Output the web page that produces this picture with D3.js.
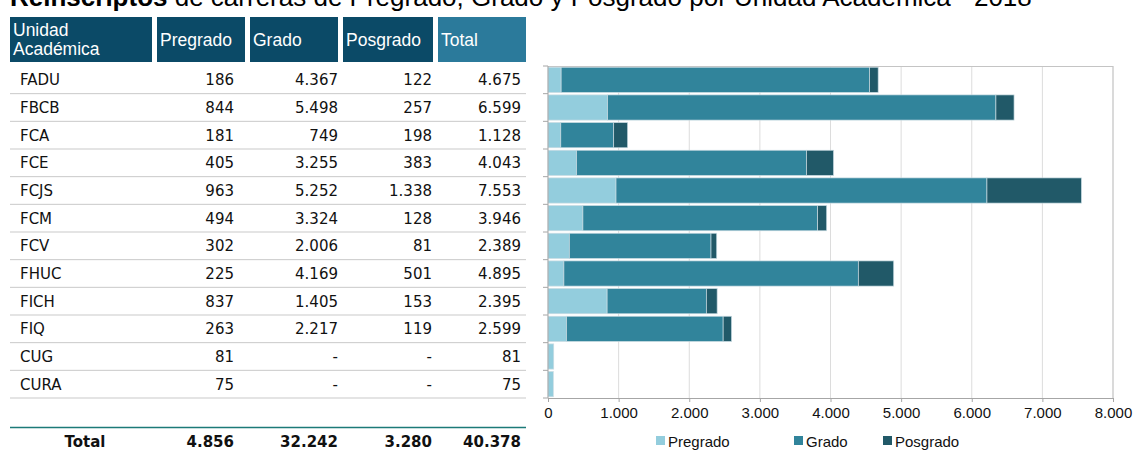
<!DOCTYPE html>
<html><head><meta charset="utf-8">
<script src="https://cdn.jsdelivr.net/npm/d3@7"></script>
<style>
html,body{margin:0;padding:0;background:#fff;}
svg{display:block;}
</style></head>
<body>
<svg id="c" width="1133" height="450"></svg>
<script>
const titleBold = "Reinscriptos";
const titleRest = " de carreras de Pregrado, Grado y Posgrado por Unidad Académica - 2018";
const headers = ["Unidad Académica", "Pregrado", "Grado", "Posgrado", "Total"];
const categories = ["FADU","FBCB","FCA","FCE","FCJS","FCM","FCV","FHUC","FICH","FIQ","CUG","CURA"];
const pregrado = [186, 844, 181, 405, 963, 494, 302, 225, 837, 263, 81, 75];
const grado    = [4367, 5498, 749, 3255, 5252, 3324, 2006, 4169, 1405, 2217, null, null];
const posgrado = [122, 257, 198, 383, 1338, 128, 81, 501, 153, 119, null, null];
const totals   = [4675, 6599, 1128, 4043, 7553, 3946, 2389, 4895, 2395, 2599, 81, 75];
const totalRow = ["Total", 4856, 32242, 3280, 40378];
const seriesNames = ["Pregrado", "Grado", "Posgrado"];
const seriesColors = ["#93cddd", "#31849b", "#215968"];
const xTicks = [0,1000,2000,3000,4000,5000,6000,7000,8000];

const loc = d3.formatLocale({decimal:",", thousands:".", grouping:[3], currency:["$",""]});
const fmt = loc.format(",d");
const fmtV = v => (v == null ? "-" : fmt(v));

const svg = d3.select("#c");

// Title (partially cut off at top, as in reference)
const tt = svg.append("text").attr("x", 10).attr("y", 6)
  .style("font-family", "Liberation Sans, Arial, sans-serif").style("font-size", "26px").attr("fill", "#000");
tt.append("tspan").attr("font-weight", "bold").text(titleBold);
tt.append("tspan").text(titleRest);

// ---------- Table ----------
const colX = [[10,152],[157,245],[250,338],[343,433],[438,526]];
const headTop = 17, headH = 45;
const headFill = ["#0b4a67","#0b4a67","#0b4a67","#0b4a67","#2b7a9b"];
const tbl = svg.append("g");
tbl.selectAll("rect.h").data(colX).join("rect")
  .attr("x", d => d[0]).attr("y", headTop).attr("width", d => d[1]-d[0]).attr("height", headH)
  .attr("fill", (d,i) => headFill[i]);
const hf = "Liberation Sans, Arial, sans-serif";
tbl.append("text").attr("x", 13).attr("y", 36).attr("fill","#fff").style("font-family",hf).style("font-size","17.5px").text("Unidad");
tbl.append("text").attr("x", 13).attr("y", 55).attr("fill","#fff").style("font-family",hf).style("font-size","17.5px").text("Académica");
headers.slice(1).forEach((h,i) => {
  tbl.append("text").attr("x", colX[i+1][0]+3).attr("y", 46).attr("fill","#fff")
    .style("font-family",hf).style("font-size","17.5px").text(h);
});

const rowY = d3.scaleBand().domain(d3.range(categories.length)).range([66, 398]);
const rightX = [null, 234, 338, 432, 521];
const df = "DejaVu Sans, sans-serif";
const rows = tbl.selectAll("g.row").data(categories).join("g")
  .attr("transform", (d,i) => `translate(0,${rowY(i)})`);
rows.append("line").attr("x1", 10).attr("x2", 526).attr("y1", rowY.bandwidth()).attr("y2", rowY.bandwidth())
  .attr("stroke", "#c9c9c9").attr("stroke-width", 1);
rows.append("text").attr("x", 20).attr("y", rowY.bandwidth()/2 + 5.5)
  .style("font-family", df).style("font-size","15px").attr("fill","#111").text(d => d);
const cols = [pregrado, grado, posgrado, totals];
cols.forEach((arr, c) => {
  rows.append("text").attr("x", rightX[c+1]).attr("y", rowY.bandwidth()/2 + 5.5)
    .attr("text-anchor","end").style("font-family", df).style("font-size","15px").attr("fill","#111")
    .text((d,i) => fmtV(arr[i]));
});
// total row
tbl.append("line").attr("x1",10).attr("x2",526).attr("y1",427.5).attr("y2",427.5).attr("stroke","#1c7a78").attr("stroke-width",1.5);
tbl.append("text").attr("x", 85).attr("y", 447).attr("text-anchor","middle")
  .style("font-family", df).style("font-size","15px").attr("font-weight","bold").attr("fill","#111").text(totalRow[0]);
totalRow.slice(1).forEach((v,i) => {
  tbl.append("text").attr("x", rightX[i+1]).attr("y", 447).attr("text-anchor","end")
    .style("font-family", df).style("font-size","15px").attr("font-weight","bold").attr("fill","#111").text(fmt(v));
});

// ---------- Chart ----------
const x0 = 548, x1 = 1113, y0 = 66, y1 = 398;
const x = d3.scaleLinear().domain([0, 8000]).range([x0, x1]);
const y = d3.scaleBand().domain(categories).range([y0, y1]).paddingInner(0.09).paddingOuter(0.045);
const ch = svg.append("g");
ch.selectAll("line.grid").data(xTicks.slice(1)).join("line")
  .attr("x1", d => x(d)).attr("x2", d => x(d)).attr("y1", y0).attr("y2", y1)
  .attr("stroke", d => d === 8000 ? "#b5b5b5" : "#dcdcdc").attr("stroke-width", 1);
ch.append("line").attr("x1", x0).attr("x2", x1).attr("y1", y0+0.5).attr("y2", y0+0.5).attr("stroke","#c4c4c4");

const table = categories.map((c,i) => ({cat:c, Pregrado: pregrado[i]||0, Grado: grado[i]||0, Posgrado: posgrado[i]||0}));
const stack = d3.stack().keys(seriesNames)(table);
ch.selectAll("g.s").data(stack).join("g").attr("fill", (d,i) => seriesColors[i])
  .selectAll("rect").data(d => d).join("rect")
  .attr("x", d => x(d[0])).attr("width", d => Math.max(0, x(d[1]) - x(d[0])))
  .attr("y", d => y(d.data.cat)).attr("height", y.bandwidth())
  .attr("stroke", "#c8dbe2").attr("stroke-width", 0.7);

const xa = ch.append("g").attr("transform", `translate(0,${y1})`)
  .call(d3.axisBottom(x).tickValues(xTicks).tickFormat(fmt).tickSize(4).tickSizeOuter(0));
xa.select(".domain").attr("stroke", "#a6a6a6");
xa.selectAll(".tick line").attr("stroke", "#a6a6a6");
xa.selectAll(".tick text").style("font-family", hf).style("font-size","15px").attr("fill","#111").attr("dy","0.85em");
ch.append("line").attr("x1", x0).attr("x2", x0).attr("y1", y0).attr("y2", y1).attr("stroke","#a6a6a6");
const bstep = (y1 - y0) / categories.length;
ch.selectAll("line.yt").data(d3.range(categories.length + 1)).join("line")
  .attr("x1", x0 - 5).attr("x2", x0).attr("y1", i => y0 + i*bstep).attr("y2", i => y0 + i*bstep)
  .attr("stroke","#a6a6a6");

const legX = [656, 794, 883];
const lg = ch.selectAll("g.lg").data(seriesNames).join("g").attr("transform", (d,i) => `translate(${legX[i]},441)`);
lg.append("rect").attr("x",0).attr("y",-5).attr("width",9).attr("height",9).attr("fill",(d,i)=>seriesColors[i]);
lg.append("text").attr("x", 12).attr("y", 5.5).style("font-family", hf).style("font-size","15px").attr("fill","#111").text(d => d);
</script>
</body></html>
